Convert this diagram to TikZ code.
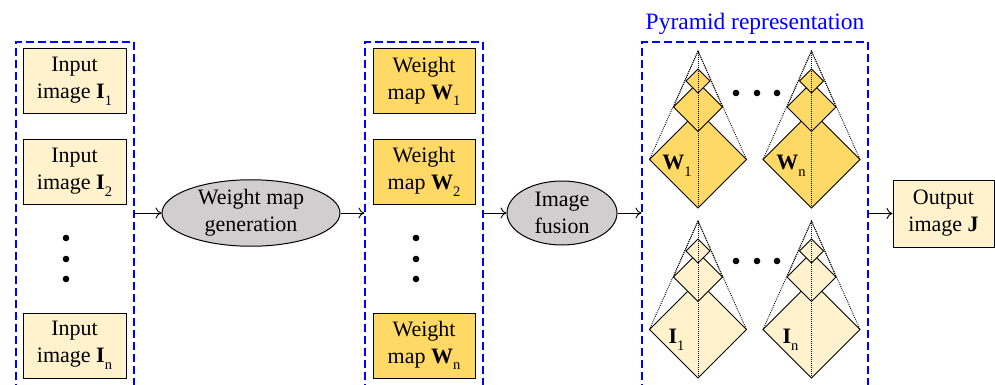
\documentclass[tikz,border=0pt]{standalone}
\usepackage{fontspec}
\setmainfont{Liberation Serif}
\usetikzlibrary{shapes.geometric,arrows.meta}
\definecolor{lightbox}{HTML}{FFF2CC}
\definecolor{goldbox}{HTML}{FFD966}
\definecolor{ellgray}{HTML}{D0CECE}
\newcommand\subs[1]{\raisebox{-0.3em}{\fontsize{14.5}{14.5}\selectfont #1}}
\newcommand\drawpyr[3]{%
  \begin{scope}[shift={(#1,#2)}]
    \filldraw[pyr, fill=#3] (0,60) -- (48.5,108.5) -- (0,157) -- (-48.5,108.5) -- cycle;
    \filldraw[pyr, fill=#3] (0,31.5) -- (24.5,56) -- (0,80.5) -- (-24.5,56) -- cycle;
    \filldraw[pyr, fill=#3] (0,18) -- (12,30) -- (0,42) -- (-12,30) -- cycle;
    \draw[dots] (-48.5,108.5) -- (0,0) -- (48.5,108.5);
    \draw[dots] (-24.5,56) -- (0,0) -- (24.5,56);
    \draw[dots] (0,0) -- (0,157);
  \end{scope}}
\begin{document}
\begin{tikzpicture}[x=1pt,y=-1pt,
  txt/.style={font=\fontsize{22}{27}\selectfont},
  box/.style={txt, draw=black, line width=1pt, minimum width=103pt, minimum height=65pt, inner sep=0pt, align=center},
  inbox/.style={box, fill=lightbox},
  wbox/.style={box, fill=goldbox, minimum width=102pt},
  proc/.style={txt, ellipse, draw=black, line width=1pt, fill=ellgray, inner sep=0pt, align=center},
  group/.style={draw=blue, dash pattern=on 8pt off 4pt, line width=1.2pt, inner sep=0pt, minimum height=358pt},
  conn/.style={-{To[length=6pt,width=11pt]}, line width=0.9pt},
  pyr/.style={draw=black, line width=1pt, line join=miter},
  dots/.style={line width=0.9pt, dash pattern=on 0.9pt off 1.1pt},
  dotc/.style={circle, fill=black, inner sep=0pt, minimum size=6.6pt},
  plabel/.style={txt, anchor=base, inner sep=0pt}
]
\useasboundingbox (0,0) rectangle (995,385);

% groups
\node[group, minimum width=118pt] (g1) at (75,221) {};
\node[group, minimum width=118pt] (g2) at (424,221) {};
\node[group, minimum width=226pt] (g3) at (755,221) {};

% input images
\node[inbox] (i1) at (74.5,81.5) {Input\\image \textbf{I}\subs{1}};
\node[inbox] (i2) at (74.5,172) {Input\\image \textbf{I}\subs{2}};
\node[inbox] (in) at (74.5,345.5) {Input\\image \textbf{I}\subs{n}};
\node[dotc] (d1a) at (66,238) {};
\node[dotc] (d1b) at (66,259) {};
\node[dotc] (d1c) at (66,279) {};

% weight maps
\node[wbox] (w1) at (424,81.5) {Weight\\map \textbf{W}\subs{1}};
\node[wbox] (w2) at (424,172) {Weight\\map \textbf{W}\subs{2}};
\node[wbox] (wn) at (424,345.5) {Weight\\map \textbf{W}\subs{n}};
\node[dotc] (d2a) at (416,238) {};
\node[dotc] (d2b) at (416,259) {};
\node[dotc] (d2c) at (416,279) {};

% processes
\node[proc, minimum width=178pt, minimum height=64pt] (e1) at (251,213) {Weight map\\generation};
\node[proc, minimum width=110pt, minimum height=64pt] (e2) at (562,213) {Image\\fusion};

% output
\node[box, fill=lightbox, minimum width=101pt, minimum height=67pt] (out) at (943.5,213.5) {Output\\image \textbf{J}};

% title
\node[txt, font=\fontsize{23.5}{27}\selectfont, text=blue, anchor=base] (title) at (755,29.3) {Pyramid representation};

% pyramids
\drawpyr{698}{51}{goldbox}
\drawpyr{811.5}{51}{goldbox}
\drawpyr{698}{221}{lightbox}
\drawpyr{811.5}{221}{lightbox}
\node[plabel] (lw1) at (677,169.5) {\textbf{W}\subs{1}};
\node[plabel] (lwn) at (791,169.5) {\textbf{W}\subs{n}};
\node[plabel] (li1) at (676.5,343.5) {\textbf{I}\subs{1}};
\node[plabel] (lin) at (790.5,343.5) {\textbf{I}\subs{n}};
\node[dotc] (p1a) at (736,93) {};
\node[dotc] (p1b) at (757,93) {};
\node[dotc] (p1c) at (777,93) {};
\node[dotc] (p2a) at (736,261) {};
\node[dotc] (p2b) at (757,261) {};
\node[dotc] (p2c) at (777,261) {};

% connectors
\draw[conn] (g1.east |- e1.west) -- (e1.west);
\draw[conn] (e1.east) -- (e1.east -| g2.west);
\draw[conn] (g2.east |- e2.west) -- (e2.west);
\draw[conn] (e2.east) -- (e2.east -| g3.west);
\draw[conn] (g3.east |- out.west) -- (out.west);
\end{tikzpicture}
\end{document}
